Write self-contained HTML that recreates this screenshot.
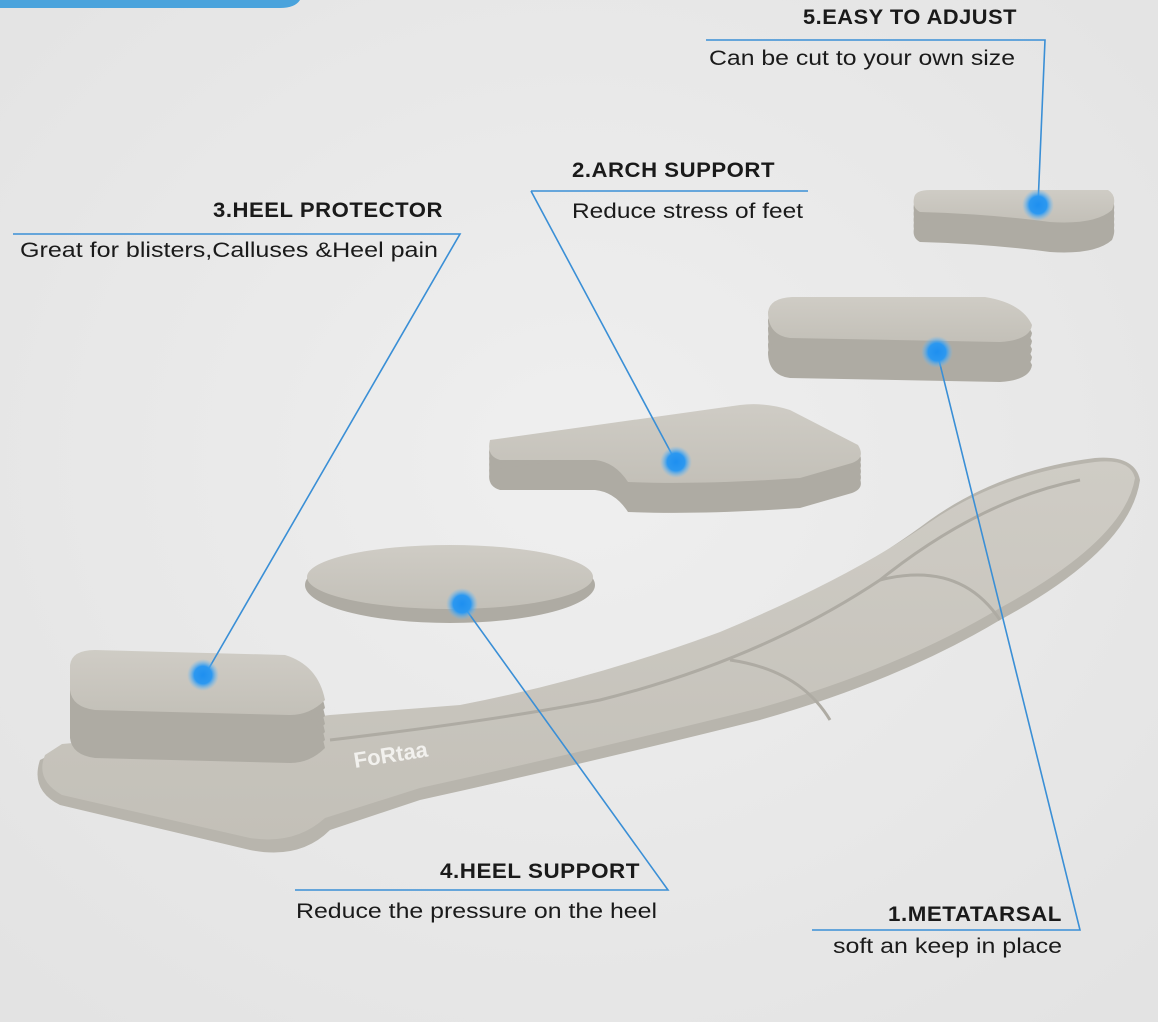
<!DOCTYPE html>
<html><head><meta charset="utf-8"><style>
html,body{margin:0;padding:0;width:1158px;height:1022px;overflow:hidden;background:#eaeaea}
svg{display:block}
text{font-family:"Liberation Sans",sans-serif;fill:#1a1a1a}
.h{font-weight:bold;font-size:21px;letter-spacing:0.5px}
.d{font-size:21px}
</style></head><body>
<svg width="1158" height="1022" viewBox="0 0 1158 1022">
<defs>
<radialGradient id="bg" cx="0.5" cy="0.45" r="0.7"><stop offset="0" stop-color="#efefef"/><stop offset="1" stop-color="#e3e3e3"/></radialGradient>
<radialGradient id="dot"><stop offset="0" stop-color="#1e8ff0"/><stop offset="0.55" stop-color="#2c98f0"/><stop offset="1" stop-color="#6fbcf5" stop-opacity="0"/></radialGradient>
<linearGradient id="top" x1="0" y1="0" x2="0" y2="1"><stop offset="0" stop-color="#cfccc5"/><stop offset="1" stop-color="#c3c0b8"/></linearGradient>
<path id="arch" d="M490 440 L740 405 Q765 402 790 410 L858 445 Q866 458 852 463 L800 478 Q700 485 628 482 Q615 462 595 460 L500 460 Q486 456 490 440 Z"/>
<path id="pad" d="M768 312 Q770 298 792 297 L985 297 Q1022 303 1032 325 Q1030 340 1000 342 L790 338 Q768 335 768 312 Z"/>
<path id="wedge" d="M914 198 Q915 190 930 190 L1108 190 Q1118 196 1112 210 Q1095 225 1050 222 Q990 214 920 212 Q912 208 914 198 Z"/>
<path id="hp" d="M70 665 Q72 650 95 650 L285 655 Q318 665 325 700 Q310 715 290 715 L95 710 Q72 707 70 690 Z"/>
</defs>
<rect width="1158" height="1022" fill="url(#bg)"/>
<path d="M0 0 H300 Q295 8 280 8 H0 Z" fill="#4aa3dc"/>

<!-- insole -->
<path d="M40 760 Q30 790 60 805 L250 850 Q300 860 330 830 L420 800 Q600 760 760 720 Q900 680 1000 620 Q1130 550 1140 480 Q1135 455 1095 458 Q1000 470 930 520 Q850 580 720 640 Q590 690 460 715 L330 725 Q250 735 200 755 Q120 745 60 750 Z" fill="#b8b5ad"/>
<path d="M45 755 Q35 780 62 795 L250 838 Q295 845 325 818 L420 788 Q600 748 760 708 Q900 668 1000 608 Q1125 540 1135 478 Q1130 458 1095 462 Q1000 474 930 522 Q850 578 720 632 Q590 680 460 705 L330 715 Q250 724 200 745 Q120 738 62 744 Z" fill="url(#top)"/>
<path d="M330 740 Q500 720 600 700 Q760 660 880 580 Q980 500 1080 480" stroke="#aeaba3" stroke-width="3" fill="none"/>
<path d="M880 580 Q960 560 1000 620" stroke="#aeaba3" stroke-width="3" fill="none"/>
<path d="M730 660 Q800 670 830 720" stroke="#aeaba3" stroke-width="3" fill="none"/>
<text x="355" y="768" font-family="Liberation Serif,serif" font-weight="bold" font-size="22" transform="rotate(-9 355 768)" style="fill:#f2f1ee">FoRtaa</text>

<!-- heel protector -->
<g fill="#aeaba3">
<use href="#hp" transform="translate(0,8)"/><use href="#hp" transform="translate(0,16)"/><use href="#hp" transform="translate(0,24)"/><use href="#hp" transform="translate(0,32)"/><use href="#hp" transform="translate(0,40)"/><use href="#hp" transform="translate(0,48)"/>
</g>
<use href="#hp" fill="url(#top)"/>
<!-- heel support -->
<ellipse cx="450" cy="585" rx="145" ry="38" fill="#aeaba3"/>
<ellipse cx="450" cy="577" rx="143" ry="32" fill="url(#top)"/>
<!-- arch -->
<g fill="#aeaba3">
<use href="#arch" transform="translate(0,6)"/><use href="#arch" transform="translate(0,12)"/><use href="#arch" transform="translate(0,18)"/><use href="#arch" transform="translate(0,24)"/><use href="#arch" transform="translate(0,30)"/>
</g>
<use href="#arch" fill="url(#top)"/>
<!-- metatarsal pad -->
<g fill="#aeaba3">
<use href="#pad" transform="translate(0,8)"/><use href="#pad" transform="translate(0,16)"/><use href="#pad" transform="translate(0,24)"/><use href="#pad" transform="translate(0,32)"/><use href="#pad" transform="translate(0,40)"/>
</g>
<use href="#pad" fill="url(#top)"/>
<!-- wedge -->
<g fill="#aeaba3">
<use href="#wedge" transform="translate(0,6)"/><use href="#wedge" transform="translate(0,12)"/><use href="#wedge" transform="translate(0,18)"/><use href="#wedge" transform="translate(0,24)"/><use href="#wedge" transform="translate(0,30)"/>
</g>
<use href="#wedge" fill="url(#top)"/>

<!-- lines -->
<g stroke="#3a8fd6" stroke-width="1.6" fill="none">
<path d="M706 40 H1045 L1038 205"/>
<path d="M531 191 H808"/><path d="M531 191 L676 462"/>
<path d="M13 234 H460 L205 675"/>
<path d="M295 890 H668 L462 604"/>
<path d="M812 930 H1080 L937 352"/>
</g>
<circle cx="1038" cy="205" r="16" fill="url(#dot)"/>
<circle cx="937" cy="352" r="16" fill="url(#dot)"/>
<circle cx="676" cy="462" r="16" fill="url(#dot)"/>
<circle cx="462" cy="604" r="16" fill="url(#dot)"/>
<circle cx="203" cy="675" r="16" fill="url(#dot)"/>

<text class="h" x="803" y="24" textLength="214" lengthAdjust="spacingAndGlyphs">5.EASY TO ADJUST</text>
<text class="d" x="709" y="65" textLength="306" lengthAdjust="spacingAndGlyphs">Can be cut to your own size</text>
<text class="h" x="572" y="177" textLength="203" lengthAdjust="spacingAndGlyphs">2.ARCH SUPPORT</text>
<text class="d" x="572" y="218" textLength="231" lengthAdjust="spacingAndGlyphs">Reduce stress of feet</text>
<text class="h" x="213" y="217" textLength="230" lengthAdjust="spacingAndGlyphs">3.HEEL PROTECTOR</text>
<text class="d" x="20" y="257" textLength="418" lengthAdjust="spacingAndGlyphs">Great for blisters,Calluses &amp;Heel pain</text>
<text class="h" x="440" y="878" textLength="200" lengthAdjust="spacingAndGlyphs">4.HEEL SUPPORT</text>
<text class="d" x="296" y="918" textLength="361" lengthAdjust="spacingAndGlyphs">Reduce the pressure on the heel</text>
<text class="h" x="888" y="921" textLength="174" lengthAdjust="spacingAndGlyphs">1.METATARSAL</text>
<text class="d" x="833" y="953" textLength="229" lengthAdjust="spacingAndGlyphs">soft an keep in place</text>
</svg>
</body></html>
